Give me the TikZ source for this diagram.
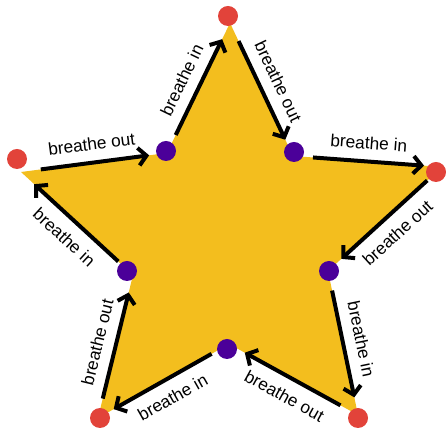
\documentclass[tikz,border=0pt]{standalone}
\usepackage{fontspec}
\setmainfont{Liberation Sans}
\usepackage{tikz}
\usetikzlibrary{arrows.meta,positioning,calc}
\definecolor{staryellow}{HTML}{F3BE1E}
\definecolor{tipred}{HTML}{E2433A}
\definecolor{innerpurple}{HTML}{4B0099}

\begin{document}
\begin{tikzpicture}[
		dot/.style={circle,minimum size=0.5cm,inner sep=0pt},
		breath/.style={line width=0.1cm,-{Straight Barb[length=2mm,width=4.4mm]},shorten <=0.5cm,shorten >=0.45cm},
		breathlabel/.style={sloped,text=black,font=\fontsize{12.3}{14}\selectfont}
	]
	
	\useasboundingbox (0,0) rectangle (11.15,10.75);
	
	\foreach \name/\x/\y in
	{
		pT/5.75/10.175,
		pUR/7.325/6.85,
		pR/11.05/6.575,
		pRI/8.2/3.975,
		pBR/8.95/0.375,
		pB/5.725/2.15,
		pBL/2.45/0.3,
		pLI/3.325/3.875,
		pL/0.525/6.45,
		pUL/4.175/6.925}
	{
		\coordinate (\name) at (\x,\y);
	}
	
	\fill[staryellow]
	(pT) -- (pUR) -- (pR) -- (pRI) -- (pBR) -- (pB)
	-- (pBL) -- (pLI) -- (pL) -- (pUL) -- cycle;
	
	\foreach \from/\to/\txt/\side in
	{
		pUL/pT/{breathe in}/above,
		pT/pUR/{breathe out}/above,
		pUR/pR/{breathe in}/above,
		pR/pRI/{breathe out}/below,
		pRI/pBR/{breathe in}/above,
		pBR/pB/{breathe out}/below,
		pB/pBL/{breathe in}/below,
		pBL/pLI/{breathe out}/above,
		pLI/pL/{breathe in}/below,
		pL/pUL/{breathe out}/above}
	{
		\draw[breath]
		(\from)
		--
		node[breathlabel,\side=4pt] {\txt}
		(\to);
	}
	
	\foreach \name/\x/\y/\col in
	{
		top/5.7/10.35/tipred,
		left/0.425/6.775/tipred,
		right/10.9/6.45/tipred,
		lowleft/2.5/0.3/tipred,
		lowright/8.95/0.3/tipred,
		upleft/4.15/6.975/innerpurple,
		upright/7.35/6.95/innerpurple,
		midleft/3.175/3.975/innerpurple,
		midright/8.225/3.975/innerpurple,
		bottom/5.675/2.025/innerpurple}
	{
		\node[dot,fill=\col] (\name) at (\x,\y) {};
	}
	
\end{tikzpicture}
\end{document}
